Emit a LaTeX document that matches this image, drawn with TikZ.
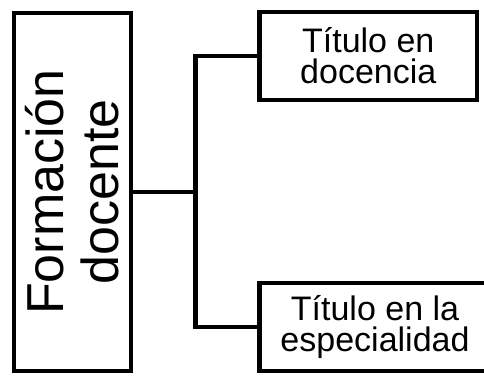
\documentclass[tikz,border=0pt]{standalone}
\usepackage{fontspec}
\setmainfont{Liberation Sans}
\begin{document}
\begin{tikzpicture}[x=1pt,y=-1pt,
    caja/.style={draw,line width=4.5pt,inner sep=0pt,align=center},
    linea/.style={line width=4.5pt}]
  \useasboundingbox (0,0) rectangle (484,376);
  \clip (0,0) rectangle (484,376);
  \node[caja,rotate=90,minimum width=358pt,minimum height=117pt,
        font=\fontsize{52}{55}\selectfont] (formacion) at (72.5,192)
        {Formación\\docente};
  \node[caja,minimum width=217.5pt,minimum height=88pt,
        font=\fontsize{34}{31}\selectfont] (docencia) at (368.25,56)
        {Título en\\docencia};
  \node[caja,minimum width=231pt,minimum height=88pt,
        font=\fontsize{34}{31}\selectfont] (especialidad) at (375,327)
        {Título en la\\especialidad};
  \draw[linea] (formacion.south) -- (195.5,192) coordinate (rama);
  \draw[linea] (docencia.west) -| (rama) |- (especialidad.west);
\end{tikzpicture}
\end{document}
